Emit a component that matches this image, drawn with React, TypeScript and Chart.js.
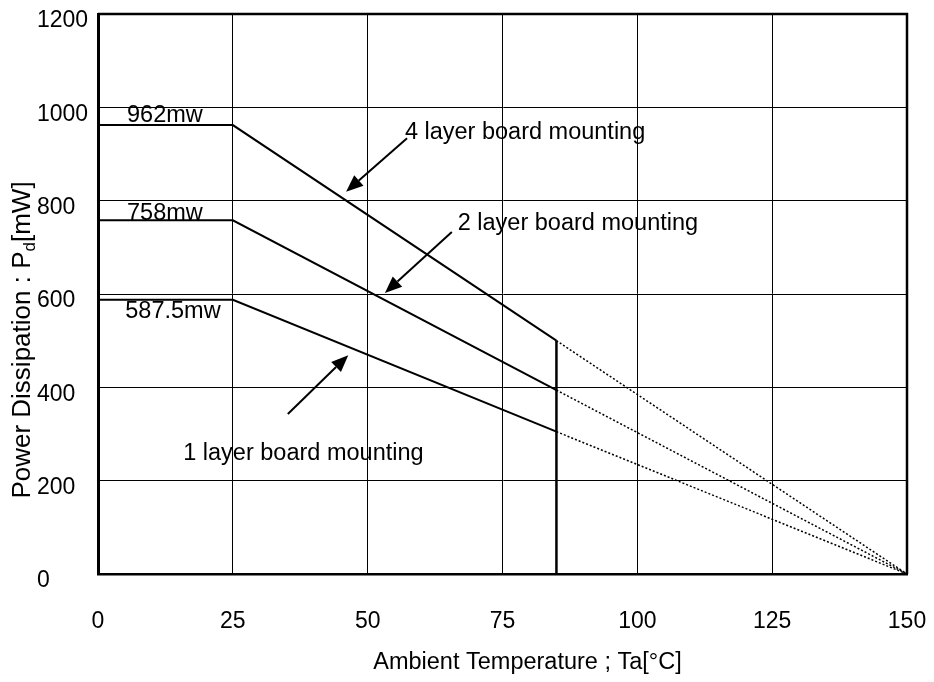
import React, { useEffect, useRef } from "react";
import { Chart, registerables } from "chart.js";

Chart.register(...registerables);

const FONT = "'Liberation Sans', Arial, Helvetica, sans-serif";

const xTickValues = [0, 25, 50, 75, 100, 125, 150];
const yTickValues = [0, 200, 400, 600, 800, 1000, 1200];

const layer4Solid = [{ x: 0, y: 962 }, { x: 25, y: 962 }, { x: 85, y: 500 }];
const layer2Solid = [{ x: 0, y: 758 }, { x: 25, y: 758 }, { x: 85, y: 394 }];
const layer1Solid = [{ x: 0, y: 587.5 }, { x: 25, y: 587.5 }, { x: 85, y: 305 }];
const layer4Dotted = [{ x: 85, y: 500 }, { x: 150, y: 0 }];
const layer2Dotted = [{ x: 85, y: 394 }, { x: 150, y: 0 }];
const layer1Dotted = [{ x: 85, y: 305 }, { x: 150, y: 0 }];
const limitLine = [{ x: 85, y: 0 }, { x: 85, y: 500 }];

const valueLabels = [
  { text: "962mw", x: 12.4, y: 983 },
  { text: "758mw", x: 12.4, y: 772 },
  { text: "587.5mw", x: 13.9, y: 562 },
];

const seriesLabels = [
  { text: "4 layer board mounting", x: 56.9, y: 947 },
  { text: "2 layer board mounting", x: 66.7, y: 752 },
  { text: "1 layer board mounting", x: 15.8, y: 259 },
];

const arrows = [
  { fromX: 57.3, fromY: 934, toX: 46.0, toY: 819 },
  { fromX: 65.6, fromY: 733, toX: 53.2, toY: 602 },
  { fromX: 35.2, fromY: 343, toX: 46.4, toY: 469 },
];

const xTitle = "Ambient Temperature ; Ta[°C]";
const yTitleMain = "Power Dissipation : P";
const yTitleSub = "d";
const yTitleEnd = "[mW]";

const decorPlugin = {
  id: "decor",
  afterDraw(chart: any) {
    const { ctx, chartArea, scales } = chart;
    const xs = scales.x;
    const ys = scales.y;
    ctx.save();
    // top & right frame
    ctx.strokeStyle = "#000";
    ctx.lineWidth = 2.5;
    ctx.beginPath();
    ctx.moveTo(chartArea.left, chartArea.top);
    ctx.lineTo(chartArea.right, chartArea.top);
    ctx.lineTo(chartArea.right, chartArea.bottom);
    ctx.stroke();

    // arrows
    ctx.fillStyle = "#000";
    ctx.lineWidth = 2;
    arrows.forEach((a) => {
      const x1 = xs.getPixelForValue(a.fromX);
      const y1 = ys.getPixelForValue(a.fromY);
      const x2 = xs.getPixelForValue(a.toX);
      const y2 = ys.getPixelForValue(a.toY);
      const ang = Math.atan2(y2 - y1, x2 - x1);
      const headLen = 17;
      const headW = 7;
      const bx = x2 - headLen * Math.cos(ang);
      const by = y2 - headLen * Math.sin(ang);
      ctx.beginPath();
      ctx.moveTo(x1, y1);
      ctx.lineTo(bx, by);
      ctx.stroke();
      ctx.beginPath();
      ctx.moveTo(x2, y2);
      ctx.lineTo(bx + headW * Math.sin(ang), by - headW * Math.cos(ang));
      ctx.lineTo(bx - headW * Math.sin(ang), by + headW * Math.cos(ang));
      ctx.closePath();
      ctx.fill();
    });

    // value labels
    ctx.font = `23.5px ${FONT}`;
    ctx.textAlign = "center";
    ctx.textBaseline = "middle";
    valueLabels.forEach((l) => {
      ctx.fillText(l.text, xs.getPixelForValue(l.x), ys.getPixelForValue(l.y));
    });
    ctx.textAlign = "left";
    seriesLabels.forEach((l) => {
      ctx.fillText(l.text, xs.getPixelForValue(l.x), ys.getPixelForValue(l.y));
    });

    // x title
    ctx.font = `23.5px ${FONT}`;
    ctx.textAlign = "center";
    ctx.fillText(xTitle, (chartArea.left + chartArea.right) / 2 + 25, chartArea.bottom + 89);

    // y title with subscript
    ctx.translate(21, (chartArea.top + chartArea.bottom) / 2 + 46);
    ctx.rotate(-Math.PI / 2);
    const big = `26px ${FONT}`;
    const small = `17px ${FONT}`;
    ctx.textBaseline = "alphabetic";
    ctx.font = big;
    const w1 = ctx.measureText(yTitleMain).width;
    const w3 = ctx.measureText(yTitleEnd).width;
    ctx.font = small;
    const w2 = ctx.measureText(yTitleSub).width;
    const total = w1 + w2 + w3;
    let cx = -total / 2;
    const base = 9;
    ctx.textAlign = "left";
    ctx.font = big;
    ctx.fillText(yTitleMain, cx, base);
    cx += w1;
    ctx.font = small;
    ctx.fillText(yTitleSub, cx, base + 5);
    cx += w2;
    ctx.font = big;
    ctx.fillText(yTitleEnd, cx, base);
    ctx.restore();
  },
};

function lineDs(data: any[], width: number, dash: number[] = []) {
  return {
    data,
    showLine: true,
    borderColor: "#000",
    backgroundColor: "#000",
    borderWidth: width,
    borderDash: dash,
    pointRadius: 0,
    fill: false,
    tension: 0,
  };
}

export default function App() {
  const ref = useRef<HTMLCanvasElement>(null);
  useEffect(() => {
    if (!ref.current) return;
    const chart = new Chart(ref.current, {
      type: "scatter",
      data: {
        datasets: [
          lineDs(layer4Solid, 2),
          lineDs(layer2Solid, 2),
          lineDs(layer1Solid, 2),
          lineDs(layer4Dotted, 1.5, [2, 2]),
          lineDs(layer2Dotted, 1.5, [2, 2]),
          lineDs(layer1Dotted, 1.5, [2, 2]),
          lineDs(limitLine, 2.5),
        ] as any,
      },
      options: {
        responsive: false,
        animation: false,
        devicePixelRatio: 1,
        layout: { padding: { top: 14, right: 27, bottom: 0, left: 37 } },
        plugins: {
          legend: { display: false },
          tooltip: { enabled: false },
          title: { display: false },
        },
        scales: {
          x: {
            type: "linear",
            min: 0,
            max: 150,
            afterBuildTicks: (s: any) => {
              s.ticks = xTickValues.map((v) => ({ value: v }));
            },
            afterFit: (s: any) => {
              s.height = 108;
              s.paddingLeft = 0;
              s.paddingRight = 0;
              s.paddingTop = 0;
              s.paddingBottom = 0;
            },
            ticks: {
              color: "#000",
              font: { family: FONT, size: 23 },
              padding: 34,
              maxRotation: 0,
              callback: (v: any) => String(v),
            },
            grid: { color: "#000", lineWidth: 1, drawTicks: false },
            border: { display: true, color: "#000", width: 2.5 },
          },
          y: {
            type: "linear",
            min: 0,
            max: 1200,
            afterBuildTicks: (s: any) => {
              s.ticks = yTickValues.map((v) => ({ value: v }));
            },
            afterFit: (s: any) => {
              s.width = 61;
              s.paddingLeft = 0;
              s.paddingRight = 0;
              s.paddingTop = 0;
              s.paddingBottom = 0;
            },
            ticks: {
              color: "#000",
              font: { family: FONT, size: 23 },
              crossAlign: "far",
              labelOffset: 7,
              padding: 10,
              callback: (v: any) => String(v),
            },
            grid: { color: "#000", lineWidth: 1, drawTicks: false },
            border: { display: true, color: "#000", width: 3 },
          },
        },
      } as any,
      plugins: [decorPlugin],
    });
    return () => chart.destroy();
  }, []);
  return (
    <div style={{ position: "absolute", left: 0, top: 0, width: 934, height: 682, background: "#fff" }}>
      <canvas ref={ref} width={934} height={682} style={{ width: 934, height: 682 }} />
    </div>
  );
}
